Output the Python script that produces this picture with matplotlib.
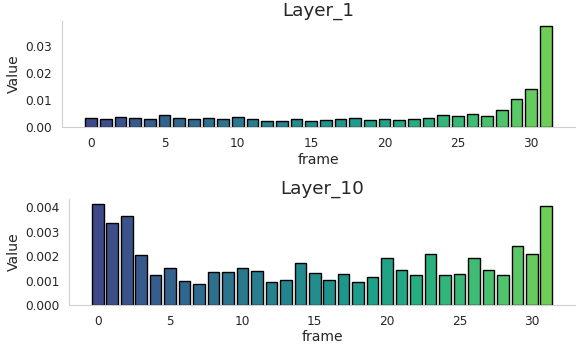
import numpy as np
import matplotlib
matplotlib.use("Agg")
import matplotlib.pyplot as plt
import seaborn as sns
from matplotlib.ticker import MultipleLocator

frames = np.arange(32)

layer_1 = [
    0.0033, 0.0030, 0.0036, 0.0034, 0.0030, 0.0044, 0.0035, 0.0030,
    0.0035, 0.0029, 0.0036, 0.0029, 0.0022, 0.0024, 0.0029, 0.0022,
    0.0026, 0.0030, 0.0033, 0.0025, 0.0029, 0.0025, 0.0029, 0.0032,
    0.0046, 0.0042, 0.0050, 0.0041, 0.0065, 0.0105, 0.0143, 0.0376,
]

layer_10 = [
    0.00414, 0.00336, 0.00364, 0.00203, 0.00122, 0.00151, 0.00100, 0.00087,
    0.00137, 0.00136, 0.00150, 0.00140, 0.00093, 0.00104, 0.00173, 0.00130,
    0.00104, 0.00128, 0.00096, 0.00113, 0.00194, 0.00144, 0.00125, 0.00208,
    0.00122, 0.00129, 0.00192, 0.00143, 0.00125, 0.00242, 0.00211, 0.00404,
]

titles = ["Layer_1", "Layer_10"]
ytick_steps = [0.01, 0.001]
ytick_formats = ["%.2f", "%.3f"]

sns.set_style("white")

colors = plt.cm.viridis(np.linspace(0.22, 0.78, len(frames)))

fig, axes = plt.subplots(2, 1, figsize=(5.76, 3.5), dpi=100)
axes[0].set_position([0.1076, 0.6371, 0.8906, 0.3029])
axes[1].set_position([0.1198, 0.1286, 0.8785, 0.3029])

for ax, values, title, step, fmt in zip(axes, [layer_1, layer_10], titles,
                                        ytick_steps, ytick_formats):
    ax.bar(frames, values, color=colors, edgecolor="black", linewidth=1)
    ax.set_title(title, fontsize=13.2, pad=4)
    ax.set_xlabel("frame", fontsize=10.1, labelpad=2)
    ax.set_ylabel("Value", fontsize=10.1, labelpad=3)
    ax.yaxis.set_major_locator(MultipleLocator(step))
    ax.yaxis.set_major_formatter(plt.FormatStrFormatter(fmt))
    ax.tick_params(labelsize=8.7, colors="#262626")
    sns.despine(ax=ax)
    for side in ["left", "bottom"]:
        ax.spines[side].set_color("#d0d0d0")

plt.savefig("out.png")
